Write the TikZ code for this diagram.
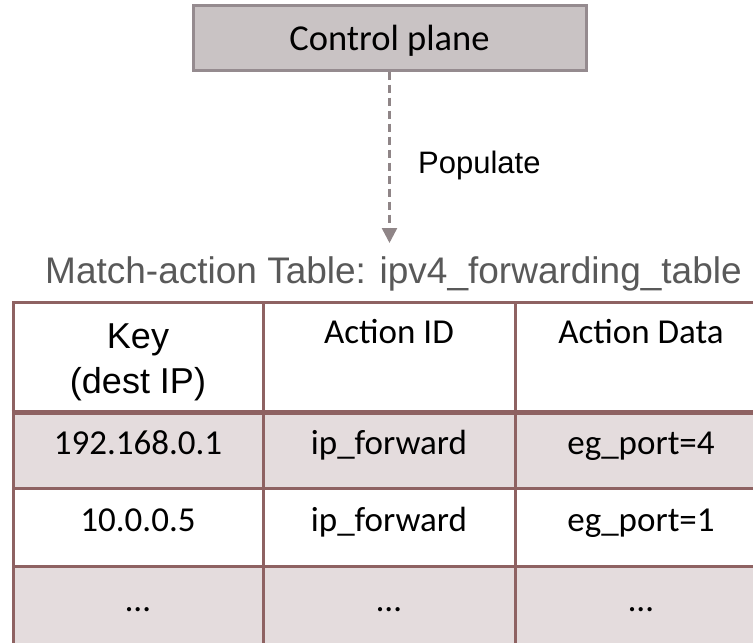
\documentclass[tikz,border=0pt]{standalone}
\usepackage{fontspec}
\setmainfont{Carlito}
\newfontfamily\arialfont{Liberation Sans}
\usetikzlibrary{arrows.meta}
\definecolor{boxfill}{HTML}{C9C3C4}
\definecolor{boxline}{HTML}{958B8F}
\definecolor{arrowgray}{HTML}{8F8587}
\definecolor{tabline}{HTML}{8E6262}
\definecolor{rowfill}{HTML}{E4DCDD}
\definecolor{titlegray}{HTML}{595959}
\tikzset{
  ctrlbox/.style={draw=boxline, fill=boxfill, line width=3pt, inner sep=0pt,
    minimum width=393pt, minimum height=65pt},
  populine/.style={draw=arrowgray, line width=2.5pt, dash pattern=on 8pt off 5pt,
    -{Triangle[length=15pt,width=15pt]}},
  cellbox/.style={draw=tabline, line width=3pt, inner sep=0pt, minimum height=#1},
  cellbox/.default=77pt,
  wide/.style={minimum width=252pt},
  narrow/.style={minimum width=250pt},
  celltext/.style={font=\fontsize{35}{42}\selectfont, inner sep=0pt, anchor=base},
  keytext/.style={font=\arialfont\fontsize{36}{45}\selectfont, align=center, inner sep=0pt},
}
\begin{document}
\begin{tikzpicture}[x=1pt,y=-1pt]
\useasboundingbox (0,0) rectangle (753,643);
\clip (0,0) rectangle (753,643);

% control plane and the populate arrow
\node[ctrlbox] (cp) at (389.5,37.5) {};
\node[font=\fontsize{36.5}{40}\selectfont, inner sep=0pt, anchor=base] (cptext) at (389.5,50) {Control plane};
\coordinate (tip) at (389.5,243);
\draw[populine] (cp.south) -- (tip);
\node[font=\arialfont\fontsize{31}{36}\selectfont, anchor=base west, inner sep=0pt] (pop) at (418,173) {Populate};

% table title
\node[font=\arialfont\fontsize{37}{42}\selectfont, text=titlegray, inner sep=0pt, anchor=base] (title) at (393.5,283) {Match-action Table: ipv4\_forwarding\_table};

% table cells: header row
\node[cellbox=109pt, narrow, fill=white] (h1) at (138,356.5) {};
\node[cellbox=109pt, wide, fill=white] (h2) at (389,356.5) {};
\node[cellbox=109pt, wide, fill=white] (h3) at (641,356.5) {};
% row 1
\node[cellbox, narrow, fill=rowfill] (a1) at (138,449.5) {};
\node[cellbox, wide, fill=rowfill] (a2) at (389,449.5) {};
\node[cellbox, wide, fill=rowfill] (a3) at (641,449.5) {};
% row 2
\node[cellbox=78pt, narrow, fill=white] (b1) at (138,527) {};
\node[cellbox=78pt, wide, fill=white] (b2) at (389,527) {};
\node[cellbox=78pt, wide, fill=white] (b3) at (641,527) {};
% row 3
\node[cellbox=78pt, narrow, fill=rowfill] (c1) at (138,605) {};
\node[cellbox=78pt, wide, fill=rowfill] (c2) at (389,605) {};
\node[cellbox=78pt, wide, fill=rowfill] (c3) at (641,605) {};
% heavier rule under the header
\draw[tabline, line width=4.5pt] (h1.south west) -- (h3.south east);

% header texts
\node[keytext] (k) at (138,362) {Key\\(dest IP)};
\node[celltext] (aid) at (389,343) {Action ID};
\node[celltext] (adata) at (641,343) {Action Data};

% entries
\node[celltext] (t11) at (138,454) {192.168.0.1};
\node[celltext] (t12) at (389,454) {ip\_forward};
\node[celltext] (t13) at (641,454) {eg\_port=4};
\node[celltext] (t21) at (138,531) {10.0.0.5};
\node[celltext] (t22) at (389,531) {ip\_forward};
\node[celltext] (t23) at (641,531) {eg\_port=1};
\node[celltext] (t31) at (138,611) {…};
\node[celltext] (t32) at (389,611) {…};
\node[celltext] (t33) at (641,611) {…};
\end{tikzpicture}
\end{document}
